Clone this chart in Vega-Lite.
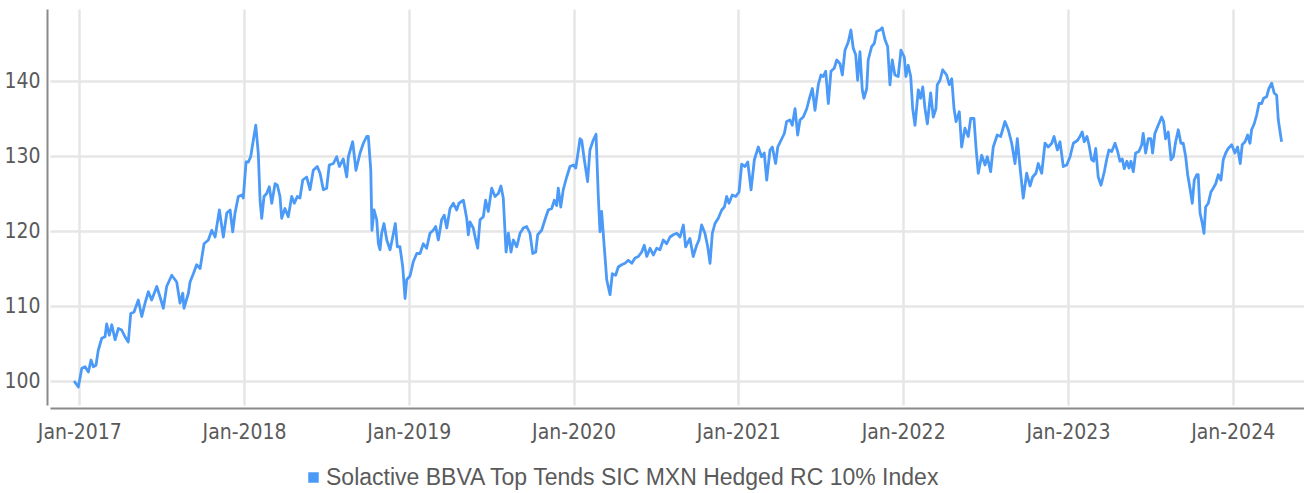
{
  "$schema": "https://vega.github.io/schema/vega-lite/v6.json",
  "width": 1254,
  "height": 396,
  "autosize": {"type": "none"},
  "padding": {"left": 50, "top": 9, "right": 0, "bottom": 88},
  "config": {"view": {"stroke": null}, "background": "white"},
  "data": {"values": [
    {"year":2016.968,"value":100.0},{"year":2016.994,"value":99.2},{"year":2017.015,"value":101.7},{"year":2017.035,"value":101.9},
    {"year":2017.055,"value":101.2},{"year":2017.071,"value":102.8},{"year":2017.085,"value":101.9},{"year":2017.101,"value":102.1},
    {"year":2017.115,"value":104.1},{"year":2017.136,"value":105.7},{"year":2017.156,"value":105.9},{"year":2017.166,"value":107.6},
    {"year":2017.182,"value":106.1},{"year":2017.197,"value":107.5},{"year":2017.217,"value":105.5},{"year":2017.237,"value":107.0},
    {"year":2017.257,"value":106.8},{"year":2017.277,"value":105.9},{"year":2017.297,"value":105.2},{"year":2017.312,"value":109.0},
    {"year":2017.332,"value":109.2},{"year":2017.358,"value":110.8},{"year":2017.379,"value":108.6},{"year":2017.399,"value":110.4},
    {"year":2017.419,"value":111.9},{"year":2017.439,"value":110.8},{"year":2017.470,"value":112.6},{"year":2017.490,"value":111.2},
    {"year":2017.510,"value":109.7},{"year":2017.530,"value":112.6},{"year":2017.561,"value":114.1},{"year":2017.591,"value":113.2},
    {"year":2017.611,"value":110.4},{"year":2017.628,"value":111.7},{"year":2017.635,"value":109.7},{"year":2017.662,"value":111.7},
    {"year":2017.672,"value":113.2},{"year":2017.692,"value":114.3},{"year":2017.712,"value":115.5},{"year":2017.733,"value":115.0},
    {"year":2017.757,"value":118.3},{"year":2017.783,"value":118.8},{"year":2017.804,"value":120.1},{"year":2017.824,"value":119.2},
    {"year":2017.850,"value":122.8},{"year":2017.874,"value":119.2},{"year":2017.895,"value":122.4},{"year":2017.915,"value":122.8},
    {"year":2017.931,"value":119.9},{"year":2017.945,"value":122.4},{"year":2017.965,"value":124.6},{"year":2017.986,"value":124.8},
    {"year":2017.995,"value":124.4},{"year":2018.012,"value":129.2},{"year":2018.026,"value":129.2},{"year":2018.040,"value":129.9},
    {"year":2018.056,"value":132.1},{"year":2018.071,"value":134.1},{"year":2018.086,"value":130.4},{"year":2018.097,"value":124.1},
    {"year":2018.107,"value":121.7},{"year":2018.121,"value":124.6},{"year":2018.137,"value":125.0},{"year":2018.153,"value":125.9},
    {"year":2018.168,"value":123.7},{"year":2018.188,"value":126.3},{"year":2018.202,"value":126.1},{"year":2018.218,"value":124.6},
    {"year":2018.228,"value":121.7},{"year":2018.248,"value":123.0},{"year":2018.268,"value":121.9},{"year":2018.289,"value":124.6},
    {"year":2018.305,"value":123.7},{"year":2018.323,"value":124.6},{"year":2018.339,"value":124.4},{"year":2018.356,"value":126.8},
    {"year":2018.380,"value":127.2},{"year":2018.400,"value":125.5},{"year":2018.420,"value":128.1},{"year":2018.444,"value":128.6},
    {"year":2018.461,"value":127.7},{"year":2018.481,"value":125.5},{"year":2018.501,"value":125.7},{"year":2018.517,"value":128.8},
    {"year":2018.542,"value":129.0},{"year":2018.562,"value":129.9},{"year":2018.578,"value":128.6},{"year":2018.602,"value":129.6},
    {"year":2018.623,"value":127.2},{"year":2018.633,"value":129.9},{"year":2018.659,"value":131.9},{"year":2018.679,"value":128.1},
    {"year":2018.704,"value":130.4},{"year":2018.724,"value":131.7},{"year":2018.744,"value":132.6},{"year":2018.754,"value":132.6},
    {"year":2018.769,"value":128.1},{"year":2018.776,"value":120.1},{"year":2018.789,"value":122.8},{"year":2018.805,"value":121.5},
    {"year":2018.815,"value":118.3},{"year":2018.825,"value":117.5},{"year":2018.835,"value":119.7},{"year":2018.849,"value":121.0},
    {"year":2018.866,"value":118.8},{"year":2018.886,"value":117.5},{"year":2018.902,"value":119.2},{"year":2018.918,"value":121.0},
    {"year":2018.930,"value":117.9},{"year":2018.946,"value":117.9},{"year":2018.963,"value":115.2},{"year":2018.977,"value":111.0},
    {"year":2018.987,"value":113.5},{"year":2019.007,"value":114.0},{"year":2019.027,"value":115.9},{"year":2019.048,"value":117.0},
    {"year":2019.068,"value":117.0},{"year":2019.088,"value":118.3},{"year":2019.108,"value":117.7},{"year":2019.128,"value":119.7},
    {"year":2019.148,"value":120.1},{"year":2019.163,"value":120.6},{"year":2019.179,"value":118.8},{"year":2019.199,"value":121.5},
    {"year":2019.215,"value":122.1},{"year":2019.230,"value":120.4},{"year":2019.250,"value":123.0},{"year":2019.270,"value":123.7},
    {"year":2019.290,"value":122.8},{"year":2019.304,"value":123.7},{"year":2019.331,"value":124.1},{"year":2019.351,"value":121.7},
    {"year":2019.361,"value":119.5},{"year":2019.371,"value":121.2},{"year":2019.391,"value":120.4},{"year":2019.406,"value":118.8},
    {"year":2019.418,"value":117.7},{"year":2019.432,"value":121.5},{"year":2019.452,"value":121.9},{"year":2019.466,"value":124.1},
    {"year":2019.482,"value":122.6},{"year":2019.503,"value":125.7},{"year":2019.523,"value":124.6},{"year":2019.543,"value":125.0},
    {"year":2019.559,"value":126.0},{"year":2019.573,"value":124.4},{"year":2019.590,"value":117.2},{"year":2019.604,"value":119.7},
    {"year":2019.620,"value":117.2},{"year":2019.634,"value":118.8},{"year":2019.655,"value":117.9},{"year":2019.675,"value":119.7},
    {"year":2019.695,"value":120.4},{"year":2019.715,"value":120.6},{"year":2019.735,"value":119.7},{"year":2019.752,"value":117.0},
    {"year":2019.770,"value":117.2},{"year":2019.782,"value":119.5},{"year":2019.806,"value":120.1},{"year":2019.826,"value":121.5},
    {"year":2019.846,"value":122.8},{"year":2019.867,"value":123.0},{"year":2019.883,"value":124.1},{"year":2019.897,"value":123.4},
    {"year":2019.907,"value":125.7},{"year":2019.922,"value":123.2},{"year":2019.937,"value":125.5},{"year":2019.958,"value":127.2},
    {"year":2019.978,"value":128.6},{"year":2019.998,"value":128.8},{"year":2020.013,"value":128.4},{"year":2020.028,"value":130.6},
    {"year":2020.039,"value":132.3},{"year":2020.049,"value":132.1},{"year":2020.065,"value":129.5},{"year":2020.085,"value":126.6},
    {"year":2020.099,"value":130.8},{"year":2020.119,"value":132.1},{"year":2020.136,"value":132.9},{"year":2020.150,"value":124.6},
    {"year":2020.160,"value":119.9},{"year":2020.170,"value":122.6},{"year":2020.186,"value":117.9},{"year":2020.201,"value":113.5},
    {"year":2020.221,"value":111.5},{"year":2020.235,"value":114.3},{"year":2020.255,"value":114.1},{"year":2020.271,"value":115.2},
    {"year":2020.292,"value":115.5},{"year":2020.312,"value":115.7},{"year":2020.332,"value":116.1},{"year":2020.353,"value":115.7},
    {"year":2020.373,"value":116.4},{"year":2020.393,"value":116.6},{"year":2020.413,"value":117.2},{"year":2020.429,"value":118.1},
    {"year":2020.444,"value":116.6},{"year":2020.464,"value":117.7},{"year":2020.484,"value":116.8},{"year":2020.504,"value":117.7},
    {"year":2020.524,"value":117.5},{"year":2020.544,"value":118.8},{"year":2020.565,"value":118.3},{"year":2020.585,"value":119.2},
    {"year":2020.605,"value":119.5},{"year":2020.626,"value":119.7},{"year":2020.646,"value":119.2},{"year":2020.666,"value":120.8},
    {"year":2020.680,"value":117.9},{"year":2020.706,"value":119.0},{"year":2020.726,"value":116.6},{"year":2020.747,"value":118.1},
    {"year":2020.761,"value":118.8},{"year":2020.777,"value":120.8},{"year":2020.797,"value":119.7},{"year":2020.814,"value":117.9},
    {"year":2020.828,"value":115.7},{"year":2020.842,"value":119.7},{"year":2020.858,"value":121.0},{"year":2020.878,"value":121.7},
    {"year":2020.899,"value":122.8},{"year":2020.915,"value":123.2},{"year":2020.929,"value":124.6},{"year":2020.943,"value":123.7},
    {"year":2020.963,"value":124.8},{"year":2020.984,"value":124.6},{"year":2021.004,"value":125.2},{"year":2021.020,"value":128.9},
    {"year":2021.040,"value":128.6},{"year":2021.057,"value":129.2},{"year":2021.077,"value":125.5},{"year":2021.097,"value":129.5},
    {"year":2021.121,"value":131.2},{"year":2021.141,"value":129.9},{"year":2021.157,"value":130.4},{"year":2021.172,"value":126.8},
    {"year":2021.192,"value":130.8},{"year":2021.206,"value":131.2},{"year":2021.226,"value":129.0},{"year":2021.239,"value":131.2},
    {"year":2021.259,"value":132.1},{"year":2021.279,"value":133.0},{"year":2021.293,"value":134.6},{"year":2021.313,"value":134.8},
    {"year":2021.327,"value":134.1},{"year":2021.344,"value":136.3},{"year":2021.360,"value":132.8},{"year":2021.374,"value":134.8},
    {"year":2021.394,"value":135.2},{"year":2021.415,"value":136.3},{"year":2021.429,"value":137.5},{"year":2021.449,"value":139.0},
    {"year":2021.465,"value":136.1},{"year":2021.485,"value":139.5},{"year":2021.501,"value":140.8},{"year":2021.515,"value":140.6},
    {"year":2021.530,"value":141.3},{"year":2021.546,"value":137.0},{"year":2021.562,"value":141.3},{"year":2021.582,"value":141.7},
    {"year":2021.597,"value":142.8},{"year":2021.617,"value":142.3},{"year":2021.631,"value":140.8},{"year":2021.647,"value":144.1},
    {"year":2021.667,"value":145.2},{"year":2021.683,"value":146.8},{"year":2021.697,"value":144.4},{"year":2021.712,"value":143.5},
    {"year":2021.724,"value":140.1},{"year":2021.738,"value":143.9},{"year":2021.752,"value":138.8},{"year":2021.762,"value":137.7},
    {"year":2021.779,"value":139.0},{"year":2021.788,"value":142.8},{"year":2021.809,"value":144.6},{"year":2021.825,"value":145.0},
    {"year":2021.839,"value":146.6},{"year":2021.859,"value":146.8},{"year":2021.873,"value":147.1},{"year":2021.890,"value":145.5},
    {"year":2021.906,"value":144.6},{"year":2021.920,"value":139.5},{"year":2021.934,"value":142.8},{"year":2021.950,"value":140.8},
    {"year":2021.970,"value":140.6},{"year":2021.987,"value":144.1},{"year":2022.007,"value":143.2},{"year":2022.017,"value":140.6},
    {"year":2022.031,"value":142.1},{"year":2022.046,"value":140.6},{"year":2022.058,"value":136.3},{"year":2022.072,"value":134.1},
    {"year":2022.092,"value":138.8},{"year":2022.106,"value":137.7},{"year":2022.119,"value":139.2},{"year":2022.133,"value":136.3},
    {"year":2022.147,"value":134.3},{"year":2022.167,"value":138.4},{"year":2022.183,"value":135.2},{"year":2022.199,"value":136.3},
    {"year":2022.207,"value":139.5},{"year":2022.224,"value":140.1},{"year":2022.240,"value":141.5},{"year":2022.264,"value":140.8},
    {"year":2022.280,"value":139.5},{"year":2022.295,"value":140.3},{"year":2022.309,"value":136.3},{"year":2022.321,"value":134.6},
    {"year":2022.341,"value":135.9},{"year":2022.355,"value":131.2},{"year":2022.375,"value":133.7},{"year":2022.395,"value":132.6},
    {"year":2022.410,"value":135.0},{"year":2022.430,"value":135.0},{"year":2022.442,"value":131.2},{"year":2022.456,"value":127.7},
    {"year":2022.477,"value":130.1},{"year":2022.497,"value":128.8},{"year":2022.511,"value":129.9},{"year":2022.531,"value":127.9},
    {"year":2022.547,"value":131.2},{"year":2022.571,"value":132.8},{"year":2022.592,"value":132.6},{"year":2022.618,"value":134.6},
    {"year":2022.638,"value":133.5},{"year":2022.659,"value":131.7},{"year":2022.679,"value":129.0},{"year":2022.693,"value":132.3},
    {"year":2022.709,"value":128.6},{"year":2022.729,"value":124.4},{"year":2022.750,"value":127.7},{"year":2022.770,"value":126.0},
    {"year":2022.786,"value":127.2},{"year":2022.806,"value":127.7},{"year":2022.820,"value":129.0},{"year":2022.841,"value":127.7},
    {"year":2022.861,"value":131.7},{"year":2022.881,"value":131.2},{"year":2022.902,"value":131.7},{"year":2022.916,"value":132.6},
    {"year":2022.936,"value":130.8},{"year":2022.952,"value":131.9},{"year":2022.972,"value":128.6},{"year":2022.993,"value":128.8},
    {"year":2023.013,"value":129.9},{"year":2023.033,"value":131.7},{"year":2023.059,"value":132.1},{"year":2023.073,"value":132.6},
    {"year":2023.087,"value":133.2},{"year":2023.099,"value":131.9},{"year":2023.116,"value":132.6},{"year":2023.128,"value":131.5},
    {"year":2023.144,"value":129.5},{"year":2023.156,"value":129.3},{"year":2023.169,"value":131.0},{"year":2023.184,"value":127.2},
    {"year":2023.201,"value":126.1},{"year":2023.221,"value":127.9},{"year":2023.235,"value":129.5},{"year":2023.249,"value":130.8},
    {"year":2023.266,"value":130.6},{"year":2023.286,"value":131.7},{"year":2023.302,"value":130.6},{"year":2023.316,"value":129.3},
    {"year":2023.330,"value":129.6},{"year":2023.342,"value":128.3},{"year":2023.358,"value":129.3},{"year":2023.371,"value":128.4},
    {"year":2023.383,"value":129.3},{"year":2023.397,"value":127.9},{"year":2023.411,"value":130.4},{"year":2023.431,"value":130.6},
    {"year":2023.448,"value":131.5},{"year":2023.457,"value":133.0},{"year":2023.472,"value":130.4},{"year":2023.488,"value":132.3},
    {"year":2023.504,"value":132.3},{"year":2023.514,"value":130.4},{"year":2023.528,"value":133.0},{"year":2023.548,"value":134.1},
    {"year":2023.569,"value":135.2},{"year":2023.581,"value":134.6},{"year":2023.593,"value":132.3},{"year":2023.609,"value":133.2},
    {"year":2023.626,"value":129.5},{"year":2023.640,"value":129.9},{"year":2023.654,"value":131.9},{"year":2023.670,"value":133.5},
    {"year":2023.686,"value":131.7},{"year":2023.700,"value":131.7},{"year":2023.715,"value":129.9},{"year":2023.727,"value":127.5},
    {"year":2023.741,"value":125.7},{"year":2023.755,"value":123.7},{"year":2023.767,"value":126.8},{"year":2023.782,"value":127.5},
    {"year":2023.791,"value":127.5},{"year":2023.802,"value":122.4},{"year":2023.816,"value":121.0},{"year":2023.826,"value":119.7},
    {"year":2023.836,"value":123.2},{"year":2023.852,"value":123.7},{"year":2023.868,"value":125.2},{"year":2023.882,"value":125.7},
    {"year":2023.897,"value":126.3},{"year":2023.913,"value":127.5},{"year":2023.929,"value":126.8},{"year":2023.943,"value":129.5},
    {"year":2023.958,"value":130.4},{"year":2023.973,"value":131.0},{"year":2023.994,"value":131.5},{"year":2024.014,"value":130.4},
    {"year":2024.030,"value":131.2},{"year":2024.046,"value":129.0},{"year":2024.058,"value":131.5},{"year":2024.075,"value":131.9},
    {"year":2024.091,"value":132.8},{"year":2024.105,"value":131.7},{"year":2024.115,"value":133.5},{"year":2024.131,"value":134.3},
    {"year":2024.146,"value":135.5},{"year":2024.160,"value":137.0},{"year":2024.176,"value":137.0},{"year":2024.188,"value":137.7},
    {"year":2024.206,"value":137.9},{"year":2024.220,"value":139.0},{"year":2024.237,"value":139.7},{"year":2024.252,"value":138.4},
    {"year":2024.267,"value":138.1},{"year":2024.277,"value":134.8},{"year":2024.297,"value":131.9}
  ]},
  "mark": {"type": "line", "strokeWidth": 2.8, "strokeJoin": "round"},
  "encoding": {
    "x": {
      "field": "year", "type": "quantitative",
      "scale": {"domain": [2016.822, 2024.433], "nice": false, "zero": false},
      "axis": {
        "values": [2017, 2018, 2019, 2020, 2021, 2022, 2023, 2024],
        "labelExpr": "'Jan-' + datum.value",
        "title": null, "grid": true, "gridColor": "#e6e6e6", "gridWidth": 2.5,
        "ticks": false, "domainColor": "#8a8a8a", "domainWidth": 2, "offset": 3,
        "labelFont": "Liberation Sans Narrow, DejaVu Sans Condensed, sans-serif",
        "labelFontSize": 21, "labelColor": "#5a5a5a", "labelPadding": 13
      }
    },
    "y": {
      "field": "value", "type": "quantitative",
      "scale": {"domain": [96.8, 149.6], "nice": false, "zero": false},
      "axis": {
        "values": [100, 110, 120, 130, 140],
        "title": null, "grid": true, "gridColor": "#e6e6e6", "gridWidth": 2.5,
        "ticks": false, "domainColor": "#8a8a8a", "domainWidth": 2, "offset": 3,
        "labelFont": "Liberation Sans Narrow, DejaVu Sans Condensed, sans-serif",
        "labelFontSize": 21, "labelColor": "#5a5a5a", "labelPadding": 7
      }
    },
    "color": {
      "datum": "Solactive BBVA Top Tends SIC MXN Hedged RC 10% Index",
      "type": "nominal",
      "scale": {"range": ["#4b9af7"]},
      "legend": {
        "title": null, "orient": "none", "legendX": 252, "legendY": 457,
        "symbolType": "square", "symbolSize": 110, "symbolStrokeWidth": 0,
        "symbolFillColor": "#4b9af7", "symbolOpacity": 1,
        "labelFont": "Liberation Sans, sans-serif", "labelFontSize": 23, "labelColor": "#5a5a5a",
        "labelOffset": 1, "labelLimit": 800
      }
    }
  }
}
